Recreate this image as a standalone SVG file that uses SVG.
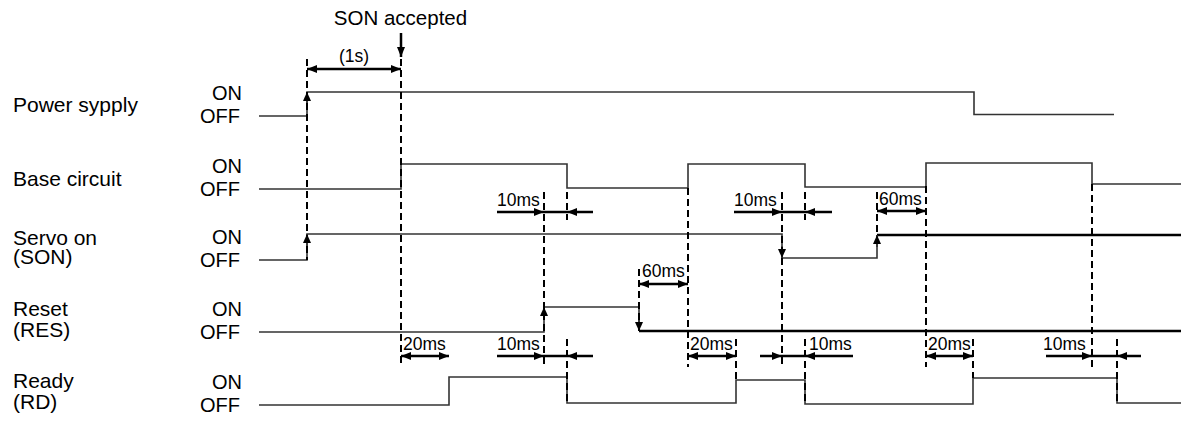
<svg xmlns="http://www.w3.org/2000/svg" width="1181" height="425" viewBox="0 0 1181 425">
<style>
text{font-family:"Liberation Sans",Arial,sans-serif;fill:#000}
.lbl{font-size:21px}
.st{font-size:20px;text-anchor:end}
.ms{font-size:17.5px}
.sig{fill:none;stroke:#333;stroke-width:1.6}
.thk{fill:none;stroke:#000;stroke-width:2.6}
.dash{fill:none;stroke:#000;stroke-width:2;stroke-dasharray:7,4}
.dim{fill:none;stroke:#000;stroke-width:2.5}
</style>
<defs>
<marker id="ah" markerUnits="userSpaceOnUse" markerWidth="10" markerHeight="8" refX="10" refY="4" orient="auto-start-reverse"><path d="M0,0 L10,4 L0,8 z" fill="#000"/></marker>
<marker id="sh" markerUnits="userSpaceOnUse" markerWidth="9" markerHeight="8" refX="9" refY="4" orient="auto"><path d="M0,0 L9,4 L0,8 z" fill="#000"/></marker>
</defs>
<rect width="1181" height="425" fill="#fff"/>

<g id="power">
<text class="lbl" x="13" y="112">Power sypply</text>
<text class="st" x="242" y="100">ON</text>
<text class="st" x="240" y="122.5">OFF</text>
<path class="sig" d="M259,116 H307 V92 H974 V114.5 H1114"/>
<path class="sig" d="M307,104 V92" marker-end="url(#sh)"/>
</g>

<g id="base">
<text class="lbl" x="13" y="186">Base circuit</text>
<text class="st" x="242" y="173">ON</text>
<text class="st" x="240" y="195.5">OFF</text>
<path class="sig" d="M259,189 H401 V164 H567 V188 H688 V164 H805 V187 H926 V163 H1092 V184 H1181"/>
</g>

<g id="servo">
<text class="lbl" x="13" y="245">Servo on</text>
<text class="lbl" x="13" y="264">(SON)</text>
<text class="st" x="242" y="244">ON</text>
<text class="st" x="240" y="266.5">OFF</text>
<path class="sig" d="M259,260 H307 V234 H782 V258 H877 V235"/>
<path class="thk" d="M877,235 H1181"/>
<path class="sig" d="M307,246 V234" marker-end="url(#sh)"/>
<path class="sig" d="M782,246 V258" marker-end="url(#sh)"/>
<path class="sig" d="M877,247 V235" marker-end="url(#sh)"/>
</g>

<g id="reset">
<text class="lbl" x="13" y="316">Reset</text>
<text class="lbl" x="13" y="336.5">(RES)</text>
<text class="st" x="242" y="316">ON</text>
<text class="st" x="240" y="338.5">OFF</text>
<path class="sig" d="M259,332 H544 V307 H639 V331"/>
<path class="thk" d="M639,331 H1181"/>
<path class="sig" d="M544,319 V307" marker-end="url(#sh)"/>
<path class="sig" d="M639,319 V331" marker-end="url(#sh)"/>
</g>

<g id="ready">
<text class="lbl" x="13" y="388">Ready</text>
<text class="lbl" x="13" y="408.5">(RD)</text>
<text class="st" x="242" y="389">ON</text>
<text class="st" x="240" y="411.5">OFF</text>
<path class="sig" d="M259,405 H449 V377 H567 V403 H736 V380 H805 V404 H973 V378 H1117 V403 H1181"/>
</g>

<g id="connectors">
<text x="400.5" y="25" style="font-size:20.5px" text-anchor="middle">SON accepted</text>
<path class="dim" d="M401,33 V57" marker-end="url(#ah)"/>
<text class="ms" x="354" y="62" text-anchor="middle">(1s)</text>
<path class="dim" d="M307,69 H401" marker-start="url(#ah)" marker-end="url(#ah)"/>

<path class="dash" d="M307,59 V260 M401,59 V367 M544,192 V367 M567,192 V220 M567,339 V403 M639,269 V331 M688,188 V367 M736,339 V380 M782,192 V367 M805,192 V220 M805,339 V404 M877,192 V235 M926,186 V367 M973,339 V378 M1092,184 V367 M1117,339 V403"/>

<!-- base row markers -->
<text class="ms" x="497" y="206">10ms</text>
<path class="dim" d="M497,212 H544" marker-end="url(#ah)"/>
<path class="dim" d="M544,212 H567"/>
<path class="dim" d="M593,212 H567" marker-end="url(#ah)"/>
<text class="ms" x="734" y="206">10ms</text>
<path class="dim" d="M734,212 H782" marker-end="url(#ah)"/>
<path class="dim" d="M782,212 H805"/>
<path class="dim" d="M832,212 H805" marker-end="url(#ah)"/>
<text class="ms" x="879" y="205">60ms</text>
<path class="dim" d="M877,211 H926" marker-start="url(#ah)" marker-end="url(#ah)"/>

<!-- reset row 60ms -->
<text class="ms" x="642" y="277">60ms</text>
<path class="dim" d="M639,284 H688" marker-start="url(#ah)" marker-end="url(#ah)"/>

<!-- ready row markers -->
<text class="ms" x="403" y="350">20ms</text>
<path class="dim" d="M401,356 H449" marker-start="url(#ah)" marker-end="url(#ah)"/>
<text class="ms" x="497" y="350">10ms</text>
<path class="dim" d="M497,356 H544" marker-end="url(#ah)"/>
<path class="dim" d="M544,356 H567"/>
<path class="dim" d="M593,356 H567" marker-end="url(#ah)"/>
<text class="ms" x="690" y="350">20ms</text>
<path class="dim" d="M688,356 H736" marker-start="url(#ah)" marker-end="url(#ah)"/>
<path class="dim" d="M760,356 H782" marker-end="url(#ah)"/>
<path class="dim" d="M782,356 H805"/>
<path class="dim" d="M853,356 H805" marker-end="url(#ah)"/>
<text class="ms" x="809" y="350">10ms</text>
<text class="ms" x="928" y="350">20ms</text>
<path class="dim" d="M926,356 H973" marker-start="url(#ah)" marker-end="url(#ah)"/>
<text class="ms" x="1043" y="350">10ms</text>
<path class="dim" d="M1046,356 H1092" marker-end="url(#ah)"/>
<path class="dim" d="M1092,356 H1117"/>
<path class="dim" d="M1141,356 H1117" marker-end="url(#ah)"/>
</g>
</svg>
